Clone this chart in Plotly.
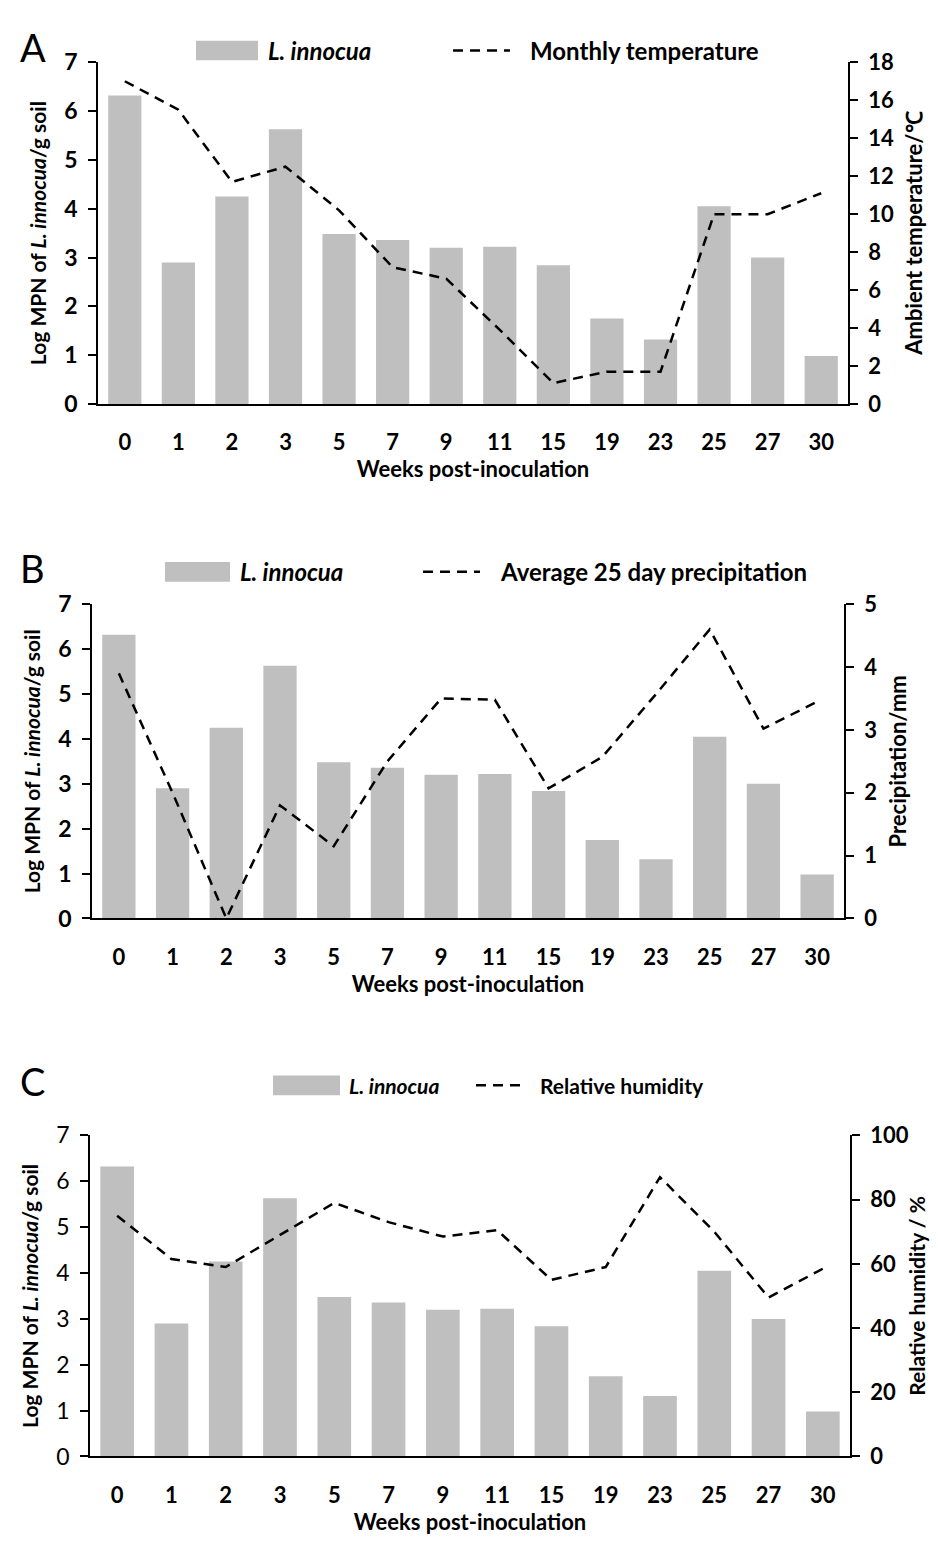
import plotly.graph_objects as go

weeks = ["0", "1", "2", "3", "5", "7", "9", "11", "15", "19", "23", "25", "27", "30"]
log_mpn = [6.32, 2.90, 4.25, 5.63, 3.48, 3.36, 3.20, 3.22, 2.84, 1.75, 1.32, 4.05, 3.00, 0.98]
temperature = [17.0, 15.5, 11.7, 12.5, 10.2, 7.2, 6.6, 3.9, 1.1, 1.7, 1.7, 10.0, 10.0, 11.1]
precipitation = [3.9, 2.0, 0.0, 1.8, 1.15, 2.5, 3.5, 3.48, 2.07, 2.57, 3.57, 4.6, 3.02, 3.45]
humidity = [75, 61.5, 59, 69, 79, 73, 68.5, 70.5, 55, 59, 87, 70, 49.5, 58.5]

W, H = 938, 1542
FONT = "Lato"
BAR_COLOR = "#BFBFBF"


def px(x):
    return x / W


def py(y):
    return 1 - y / H


panels = [
    dict(letter="A", line=temperature, rtitle="Ambient temperature/\u2103", rrange=[0, 18], rdtick=2,
         xdom=[90, 840], ydom=[40, 388], leg="Monthly temperature", rstand=14, rsize=22,
         legy=28, rect=[188, 250], ltext=258, dash=[445, 502], rtext=520, legsize=24, leftbold=True),
    dict(letter="B", line=precipitation, rtitle="Precipitation/mm", rrange=[0, 5], rdtick=1,
         xdom=[84, 836], ydom=[592, 912], leg="Average 25 day precipitation", rstand=14, rsize=22,
         legy=559, rect=[157, 222], ltext=230, dash=[415, 472], rtext=490, legsize=24, leftbold=True),
    dict(letter="C", line=humidity, rtitle="Relative humidity / %", rrange=[0, 100], rdtick=20,
         xdom=[82, 842], ydom=[1133, 1460], leg="Relative humidity", rstand=3, rsize=21,
         legy=1082, rect=[265, 332], ltext=339, dash=[468, 517], rtext=530, legsize=21, leftbold=False),
]

fig = go.Figure()
shapes = []
annotations = []
layout = {}

for i, p in enumerate(panels):
    n = i + 1
    xa = "x" if n == 1 else f"x{n}"
    yl = f"y{2 * n - 1}" if n > 1 else "y"
    yr = f"y{2 * n}"
    fig.add_trace(go.Bar(x=weeks, y=log_mpn, marker=dict(color=BAR_COLOR, line=dict(width=0)),
                         xaxis=xa, yaxis=yl, showlegend=False))
    fig.add_trace(go.Scatter(x=weeks, y=p["line"], mode="lines",
                             line=dict(color="black", width=2.5, dash="10px,7px"),
                             xaxis=xa, yaxis=yr, showlegend=False))

    xkey = "xaxis" if n == 1 else f"xaxis{n}"
    ylkey = "yaxis" if n == 1 else f"yaxis{2 * n - 1}"
    yrkey = f"yaxis{2 * n}"
    ylref = "y" if n == 1 else f"y{2 * n - 1}"

    layout[xkey] = dict(
        domain=[px(p["xdom"][0]), px(p["xdom"][1])], anchor=ylref,
        type="category", showline=True, linecolor="black", linewidth=1.5,
        ticks="", ticklabelstandoff=18,
        tickfont=dict(family=FONT, size=22, color="black", weight="bold"),
        title=dict(text="Weeks post-inoculation", standoff=6,
                   font=dict(family=FONT, size=22, color="black", weight="bold")),
        showgrid=False, zeroline=False, fixedrange=True,
    )
    layout[ylkey] = dict(
        domain=[py(p["ydom"][1]), py(p["ydom"][0])], anchor=xa,
        range=[0, 7], dtick=1, showline=True, linecolor="black", linewidth=1.5,
        ticks="outside", ticklen=8, tickcolor="black", tickwidth=1.5,
        ticklabelstandoff=6,
        tickfont=dict(family=FONT, size=23, color="black",
                      weight="bold" if p["leftbold"] else "normal"),
        title=dict(text="Log MPN of <i>L. innocua</i>/g soil", standoff=12,
                   font=dict(family=FONT, size=21, color="black", weight="bold")),
        showgrid=False, zeroline=False,
    )
    layout[yrkey] = dict(
        overlaying=ylref, side="right", anchor=xa,
        range=p["rrange"], dtick=p["rdtick"], showline=True, linecolor="black", linewidth=1.5,
        ticks="outside", ticklen=8, tickcolor="black", tickwidth=1.5,
        ticklabelstandoff=6,
        tickfont=dict(family=FONT, size=22, color="black", weight="bold"),
        title=dict(text=p["rtitle"], standoff=p["rstand"],
                   font=dict(family=FONT, size=p["rsize"], color="black", weight="bold")),
        showgrid=False, zeroline=False,
    )

    # panel letter
    annotations.append(dict(text=p["letter"], x=px(10), y=py(p["legy"] - 4), xref="paper", yref="paper",
                            xanchor="left", yanchor="middle", showarrow=False,
                            font=dict(family=FONT, size=38, color="black")))
    # legend: bar swatch
    shapes.append(dict(type="rect", xref="paper", yref="paper",
                       x0=px(p["rect"][0]), x1=px(p["rect"][1]),
                       y0=py(p["legy"] + 10), y1=py(p["legy"] - 10),
                       fillcolor=BAR_COLOR, line=dict(width=0)))
    annotations.append(dict(text="<i>L. innocua</i>", x=px(p["ltext"]), y=py(p["legy"]),
                            xref="paper", yref="paper", xanchor="left", yanchor="middle",
                            showarrow=False,
                            font=dict(family=FONT, size=p["legsize"], color="black", weight="bold")))
    shapes.append(dict(type="line", xref="paper", yref="paper",
                       x0=px(p["dash"][0]), x1=px(p["dash"][1]),
                       y0=py(p["legy"]), y1=py(p["legy"]),
                       line=dict(color="black", width=2.5, dash="10px,7px")))
    annotations.append(dict(text=p["leg"], x=px(p["rtext"]), y=py(p["legy"]),
                            xref="paper", yref="paper", xanchor="left", yanchor="middle",
                            showarrow=False,
                            font=dict(family=FONT, size=p["legsize"], color="black", weight="bold")))

fig.update_layout(
    width=W, height=H,
    margin=dict(l=0, r=0, t=0, b=0),
    paper_bgcolor="white", plot_bgcolor="white",
    bargap=0.38,
    showlegend=False,
    shapes=shapes, annotations=annotations,
    font=dict(family=FONT, color="black"),
    **layout,
)

fig.write_html("out.html")
